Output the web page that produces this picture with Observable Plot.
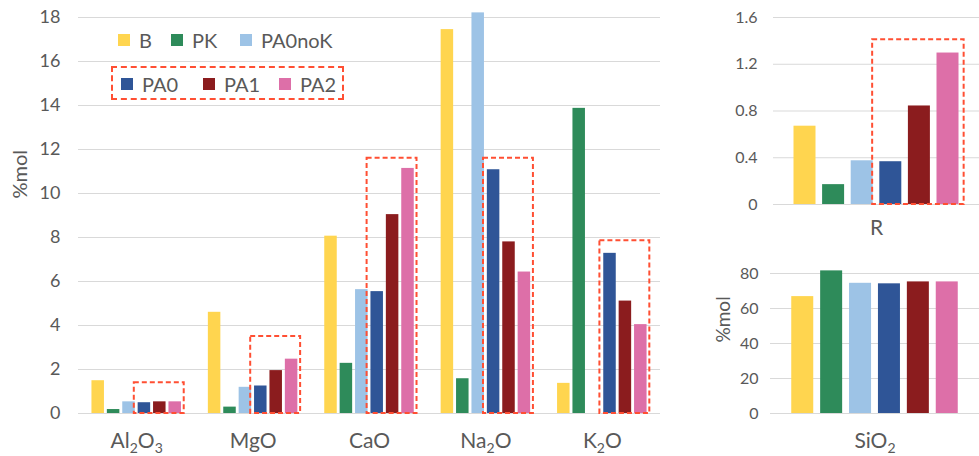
<!DOCTYPE html>
<html>
<head>
<meta charset="utf-8">
<script src="https://cdn.jsdelivr.net/npm/d3@7"></script>
<script src="https://cdn.jsdelivr.net/npm/@observablehq/plot@0.6"></script>
<style>
  body { margin: 0; background: #fff; font-family: Lato, "Open Sans", sans-serif; }
  #chart { position: relative; width: 979px; height: 456px; overflow: hidden; background: #fff; }
  #chart > svg { position: absolute; }
  .key { position: absolute; display: flex; align-items: center; font-size: 20px; color: #595959; white-space: nowrap; }
  .key i { display: inline-block; width: 12px; height: 12px; margin-right: 9px; }
  .keybox { position: absolute; border: 2px dashed #ff4f33; box-sizing: border-box; }
</style>
</head>
<body>
<div id="chart"></div>
<script>
// Samples and their colours
const series = ["B", "PK", "PA0noK", "PA0", "PA1", "PA2"];
const colors = ["#FFD54F", "#2E8B5A", "#9DC3E6", "#2F5597", "#8B1C1E", "#DD6FA8"];

// Oxide composition, %mol
const oxides = ["Al₂O₃", "MgO", "CaO", "Na₂O", "K₂O"];
const B      = [1.49, 4.60, 8.06, 17.45, 1.37];
const PK     = [0.18, 0.29, 2.28, 1.58, 13.87];
const PA0noK = [0.53, 1.19, 5.63, 18.21, 0];
const PA0    = [0.49, 1.25, 5.54, 11.08, 7.28];
const PA1    = [0.53, 1.95, 9.04, 7.80, 5.11];
const PA2    = [0.53, 2.47, 11.14, 6.43, 4.04];
const oxideBoxTop = [1.4, 3.5, 11.6, 11.6, 7.85];
const oxideTicks = [0, 2, 4, 6, 8, 10, 12, 14, 16, 18];

// Ratio R
const rLabel = "R";
const rValues = [0.67, 0.17, 0.374, 0.366, 0.843, 1.296];
const rBoxTop = 1.41;
const rTicks = [0, 0.4, 0.8, 1.2, 1.6];

// Silica, %mol
const siLabel = "SiO₂";
const siValues = [66.8, 81.5, 74.4, 74.1, 75.2, 75.2];
const siTicks = [0, 20, 40, 60, 80];

const bySeries = [B, PK, PA0noK, PA0, PA1, PA2];
const ink = "#595959";
const grid = "#d9d9d9";
const boxStroke = "#ff4f33";

// Bars of one group sit side by side around the category position.
// step and width are given as fractions of one category unit.
function groupBars(cat, values, step, width) {
  return values.map((v, s) => {
    const c = cat + (s - 2.5) * step;
    return {series: series[s], value: v, x1: c - width / 2, x2: c + width / 2};
  });
}
function groupBox(cat, top, step, width) {
  return {
    x1: cat + (0.5 * step) - width / 2 - 0.25 * step,
    x2: cat + (2.5 * step) + width / 2 + 0.18 * step,
    top
  };
}

// Render Unicode subscript digits as smaller, lowered tspans
const subDigits = "₀₁₂₃₄₅₆₇₈₉";
function subscriptify(svg, size, subSize, shift) {
  svg.querySelectorAll("text").forEach((t) => {
    const s = t.textContent;
    if (![...s].some((ch) => subDigits.includes(ch))) return;
    t.textContent = "";
    let down = false;
    for (const ch of s) {
      const k = subDigits.indexOf(ch);
      const span = document.createElementNS("http://www.w3.org/2000/svg", "tspan");
      if (k >= 0) {
        span.textContent = String(k);
        span.setAttribute("font-size", subSize);
        if (!down) { span.setAttribute("dy", shift); down = true; }
      } else {
        span.textContent = ch;
        span.setAttribute("font-size", size);
        if (down) { span.setAttribute("dy", -shift); down = false; }
      }
      t.appendChild(span);
    }
  });
}

function panel({width, height, left, top, marginLeft, marginRight, marginTop, marginBottom,
                xDomain, yDomain, ticks, tickFormat, tickPadding, tickFont, cats, catLabels, catPadding,
                bars, boxes, yLabel, yLabelDx, yLabelDy, yLabelFont}) {
  const marks = [
    Plot.ruleY(ticks, {stroke: grid, strokeWidth: 1}),
    Plot.rect(bars, {x1: "x1", x2: "x2", y1: 0, y2: "value", fill: "series"}),
    Plot.rect(boxes, {x1: "x1", x2: "x2", y1: 0, y2: "top", fill: "none",
      stroke: boxStroke, strokeWidth: 2, strokeDasharray: "5,3"}),
    Plot.axisY(ticks, {tickSize: 0, tickPadding, fontSize: tickFont, label: null, tickFormat}),
    Plot.axisX(cats, {tickSize: 0, tickPadding: catPadding, fontSize: 21, label: null,
      tickFormat: (d) => catLabels[d]})
  ];
  if (yLabel) {
    marks.push(Plot.text([yLabel], {frameAnchor: "left", dx: yLabelDx, dy: yLabelDy,
      rotate: -90, fontSize: yLabelFont, fill: ink}));
  }
  const svg = Plot.plot({
    width, height, marginLeft, marginRight, marginTop, marginBottom,
    style: {fontFamily: "Lato, 'Open Sans', sans-serif", color: ink, background: "transparent", overflow: "visible"},
    x: {domain: xDomain, axis: null},
    y: {domain: yDomain, axis: null},
    color: {domain: series, range: colors},
    marks
  });
  subscriptify(svg, 21, 14, 5);
  svg.style.left = left + "px";
  svg.style.top = top + "px";
  return svg;
}

const chart = document.getElementById("chart");

// Main panel: oxides
const mainStep = 15.4 / 116.4, mainWidth = 12.5 / 116.4;
const mainBars = oxides.flatMap((_, c) => groupBars(c, bySeries.map((a) => a[c]), mainStep, mainWidth));
const mainBoxes = oxides.map((_, c) => groupBox(c, oxideBoxTop[c], mainStep, mainWidth));
chart.appendChild(panel({
  width: 670, height: 456, left: 0, top: 0,
  marginLeft: 78, marginRight: 10, marginTop: 17, marginBottom: 43,
  xDomain: [-0.5, 4.5], yDomain: [0, 18], ticks: oxideTicks, tickPadding: 18, tickFont: 18,
  cats: oxides.map((_, i) => i), catLabels: oxides, catPadding: 20,
  bars: mainBars, boxes: mainBoxes,
  yLabel: "%mol", yLabelDx: -58, yLabelDy: -17, yLabelFont: 20
}));

// Upper right panel: R
const rStep = 28.6 / 206, rWidth = 22 / 206;
chart.appendChild(panel({
  width: 299, height: 240, left: 680, top: 0,
  marginLeft: 93, marginRight: 0, marginTop: 17, marginBottom: 36,
  xDomain: [-0.5, 0.5], yDomain: [0, 1.6], ticks: rTicks, tickPadding: 16, tickFont: 16,
  tickFormat: (d) => (d === 0 ? "0" : d.toFixed(1)),
  cats: [0], catLabels: [rLabel], catPadding: 16,
  bars: groupBars(0, rValues, rStep, rWidth),
  boxes: [groupBox(0, rBoxTop, rStep, rWidth)]
}));

// Lower right panel: SiO2
const siStep = 28.9 / 209, siWidth = 22 / 209;
chart.appendChild(panel({
  width: 299, height: 216, left: 680, top: 240,
  marginLeft: 90, marginRight: 0, marginTop: 33, marginBottom: 43,
  xDomain: [-0.5, 0.5], yDomain: [0, 80], ticks: siTicks, tickPadding: 12, tickFont: 16,
  cats: [0], catLabels: [siLabel], catPadding: 20,
  bars: groupBars(0, siValues, siStep, siWidth), boxes: [],
  yLabel: "%mol", yLabelDx: -47, yLabelDy: -1, yLabelFont: 19
}));

// Legend, two rows; the second row is framed like the groups it names
const keyLeft = [118, 171, 240, 121, 203, 279];
const keyTop = [40, 40, 40, 84, 84, 84];
series.forEach((name, i) => {
  const el = document.createElement("div");
  el.className = "key";
  el.style.left = keyLeft[i] + "px";
  el.style.top = (keyTop[i] - 13) + "px";
  el.style.height = "26px";
  el.innerHTML = `<i style="background:${colors[i]}"></i>${name}`;
  chart.appendChild(el);
});
const kb = document.createElement("div");
kb.className = "keybox";
Object.assign(kb.style, {left: "111px", top: "66px", width: "233px", height: "34px"});
chart.appendChild(kb);
</script>
</body>
</html>
